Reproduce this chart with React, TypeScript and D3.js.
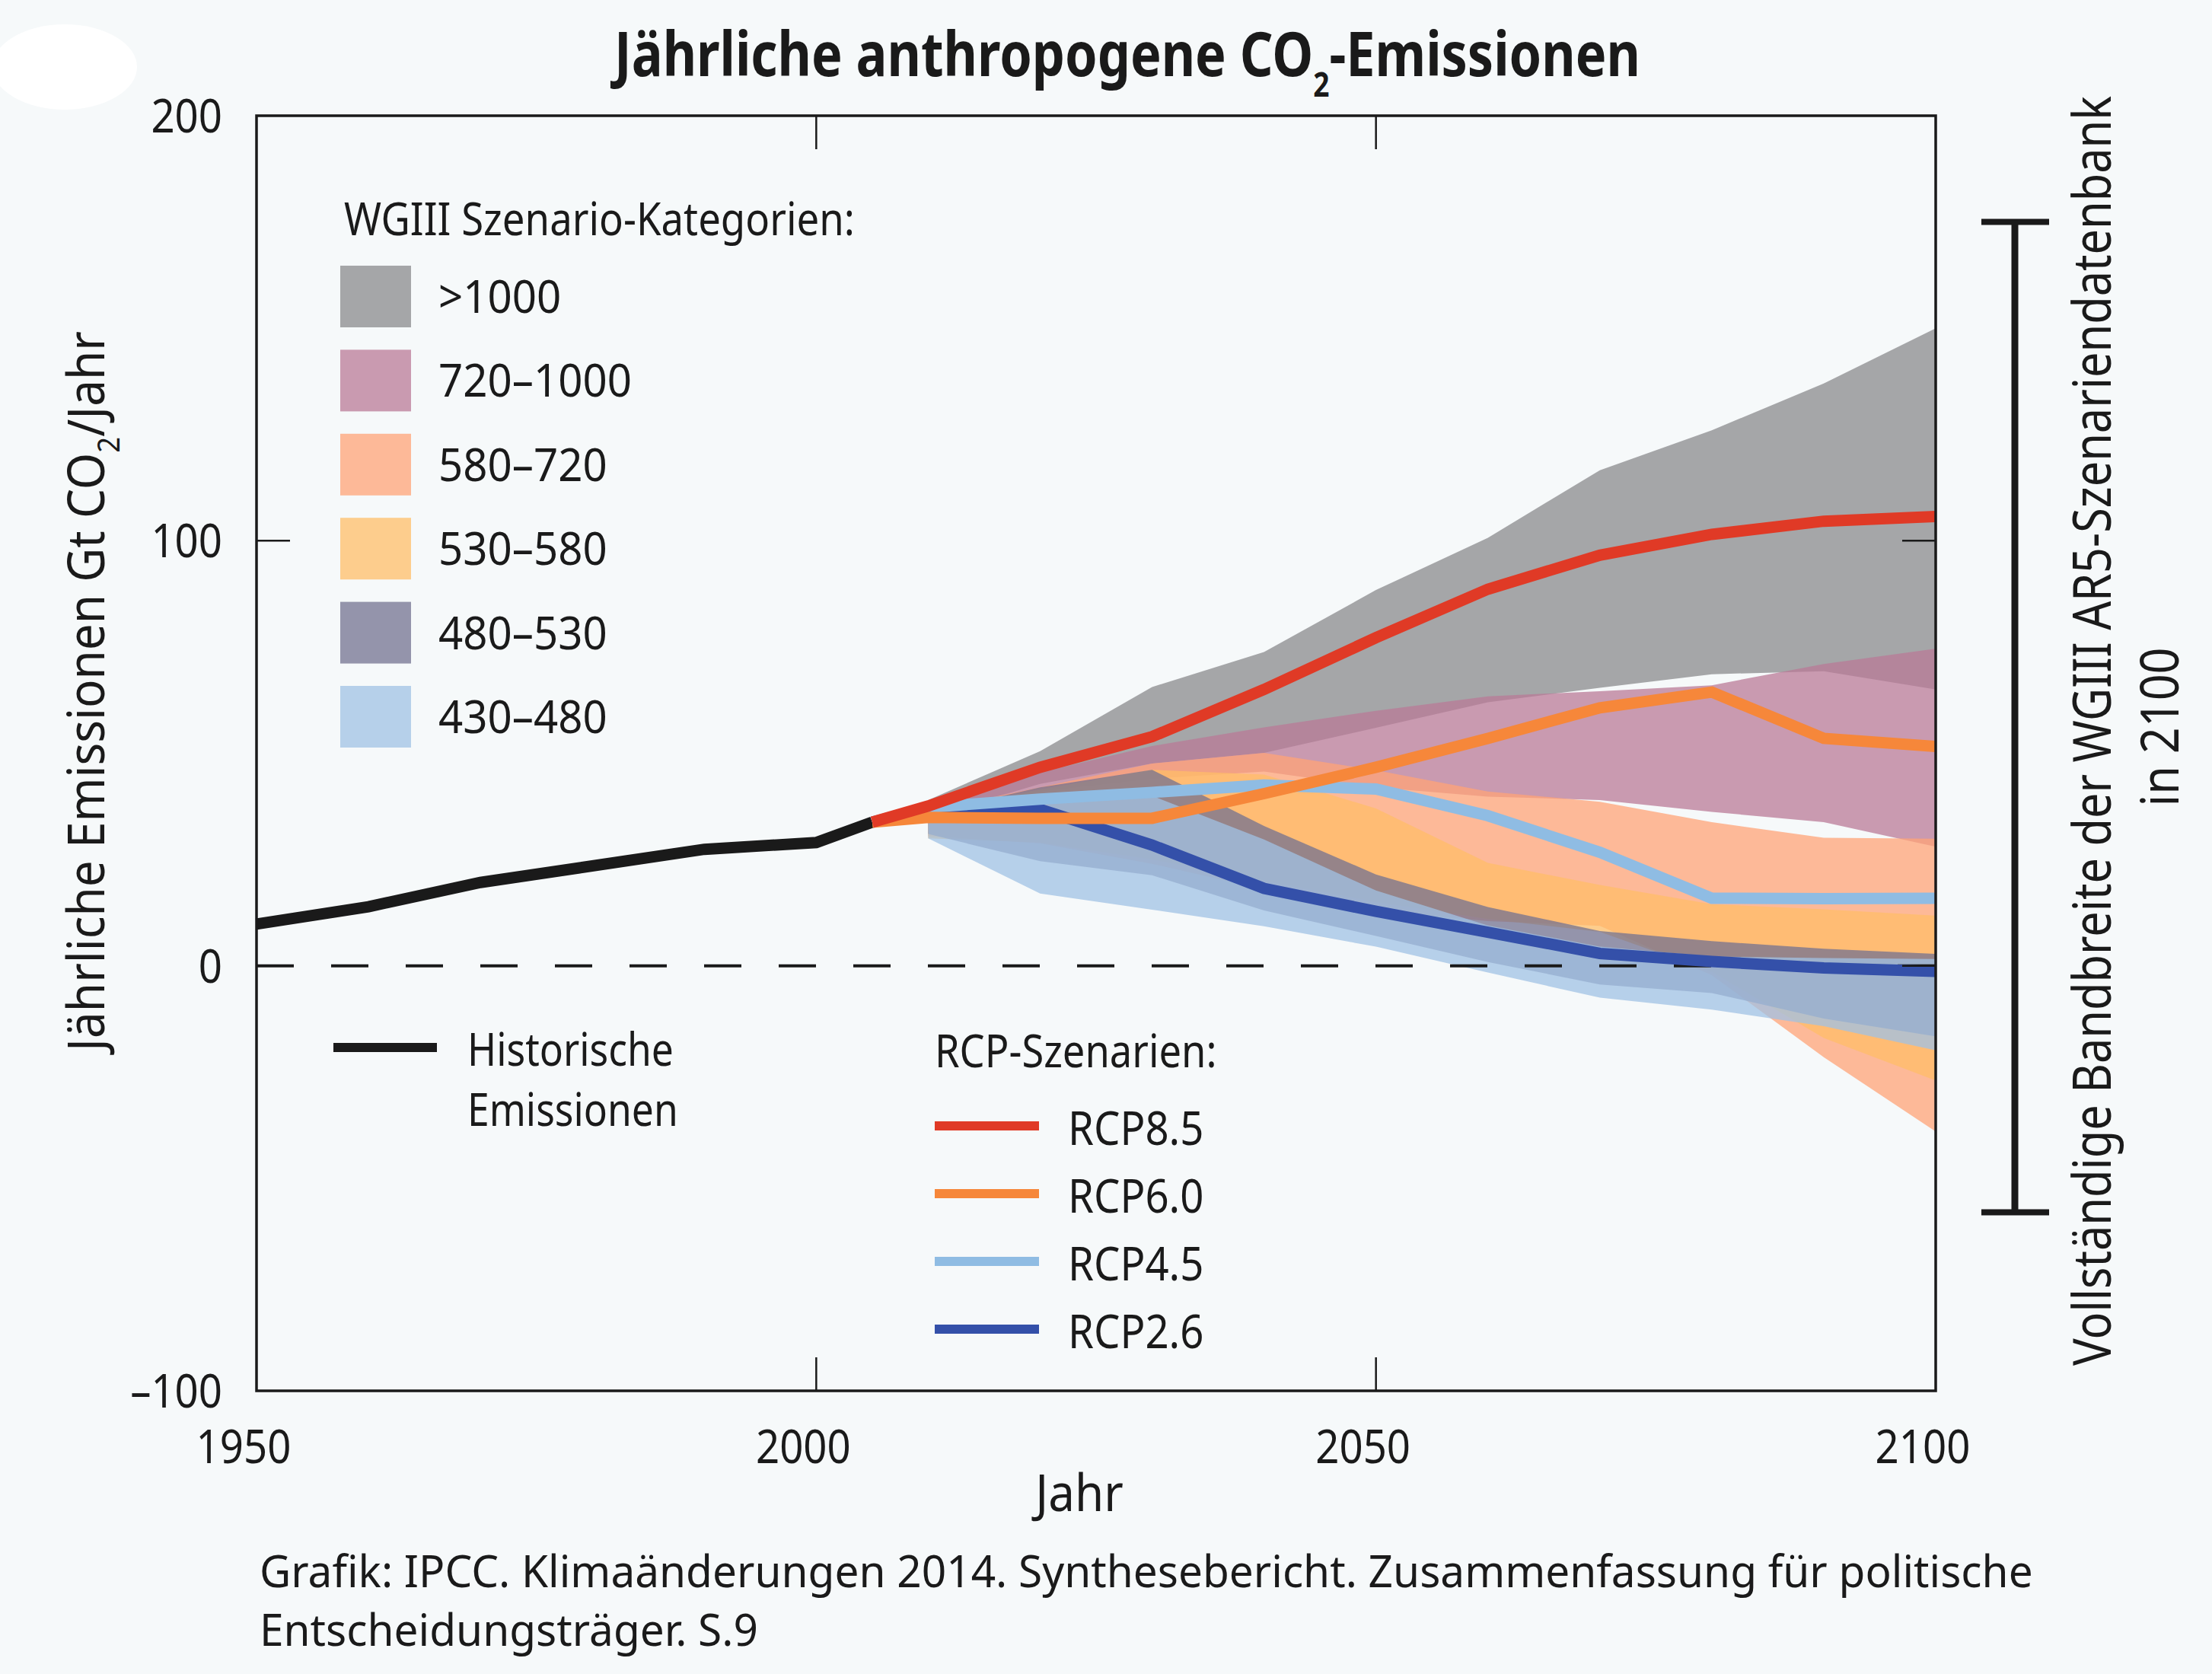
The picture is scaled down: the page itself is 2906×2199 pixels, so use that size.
import React, { useRef, useEffect } from "react";
import * as d3 from "d3";

// ---- data (Gt CO2 / Jahr) ----
const histYears = [1950, 1960, 1970, 1990, 2000, 2005];
const histValues = [9.8, 13.9, 19.6, 27.4, 29.0, 33.8];

const rcpYears = [2005, 2010, 2020, 2030, 2040, 2050, 2060, 2070, 2080, 2090, 2100];
const rcp85 = [33.8, 37.6, 46.7, 53.9, 65.0, 77.2, 88.6, 96.6, 101.5, 104.6, 105.7];
const rcp60 = [33.8, 34.9, 34.7, 34.7, 40.5, 46.7, 53.5, 60.7, 64.4, 53.5, 51.6];
const rcp45 = [33.8, 37.3, 39.2, 40.8, 42.5, 41.6, 35.3, 26.7, 15.9, 15.8, 15.9];
const rcp26 = [33.8, 37.0, 36.8, 28.4, 18.2, 12.8, 7.9, 2.9, 1.0, -0.5, -1.3];

const bandYears = [2010, 2020, 2030, 2040, 2050, 2060, 2070, 2080, 2090, 2100];
const cat1000Low = [35, 42.8, 47.6, 50.1, 56, 62, 65.4, 68.6, 69.3, 65];
const cat1000High = [39, 50.5, 65.6, 73.8, 88.4, 100.7, 116.6, 126, 137, 150];
const cat720Low = [34, 41, 44, 45.7, 42, 39.8, 39, 36.2, 33.8, 28];
const cat720High = [37.5, 45.5, 51.7, 56.1, 60, 63.4, 64.6, 66, 71, 74.6];
const cat580Low = [30.5, 28.8, 24, 18, 13, 10.5, 9.4, -2.2, -21.5, -39];
const cat580High = [36.5, 42, 47.6, 50.1, 46, 41, 38.6, 33.8, 30.1, 29.9];
const cat530Low = [30, 29, 25, 20, 15, 11, 8, -1.4, -17, -27];
const cat530High = [36, 41.5, 46.1, 45, 37, 24.2, 19, 14.5, 13.3, 11.8];
const cat480Low = [31, 24.6, 21.3, 13, 7, 0.9, -4.4, -6.4, -12.4, -16.6];
const cat480High = [36, 42, 46.1, 32.9, 21.5, 13.8, 8.2, 5.8, 4.0, 2.8];
const cat430Low = [30, 17, 13.2, 9.3, 4.5, -1.6, -7.5, -10.3, -14.2, -19.9];
const cat430High = [36.5, 38, 40, 29.7, 17.7, 9.5, 4.5, 2.2, 1.8, 1.6];

const categories = [">1000", "720–1000", "580–720", "530–580", "480–530", "430–480"];
const rcpNames = ["RCP8.5", "RCP6.0", "RCP4.5", "RCP2.6"];

// full range of the WGIII AR5 scenario database in 2100
const dbRange2100 = [-58, 175];

const xTicks = [1950, 2000, 2050, 2100];
const yTicks = [-100, 0, 100, 200];

const W = 2906;
const H = 2199;
const FONT = "'Noto Sans', 'Open Sans', sans-serif";
const ink = "#1a1a1a";

type LabelOpts = { k?: number; width?: number; rot?: boolean; bold?: boolean; anchor?: string };

const drawChart = (elt: SVGSVGElement) => {
  const svg = d3.select(elt);
  svg.selectAll("*").remove();

  const x = d3.scaleLinear().domain([1950, 2100]).range([337, 2543]);
  const y = d3.scaleLinear().domain([-100, 200]).range([1827, 152]);

  svg.append("rect").attr("width", W).attr("height", H).attr("fill", "#f6f9fa");
  svg.append("ellipse").attr("cx", 85).attr("cy", 88).attr("rx", 95).attr("ry", 56).attr("fill", "#ffffff");

  // the source figure uses a condensed face, so text is squeezed horizontally
  const label = (tx: number, ty: number, size: number, content: string | ((t: any) => void), o: LabelOpts = {}) => {
    const grp = svg.append("g");
    const t = grp.append("text")
      .attr("text-anchor", o.anchor || "start")
      .style("font-family", FONT)
      .style("font-size", size + "px")
      .style("font-weight", o.bold ? "bold" : "normal")
      .style("fill", ink);
    if (typeof content === "string") t.text(content);
    else content(t);
    let k = o.k ?? 1;
    if (o.width) k = o.width / (t.node() as SVGTextElement).getComputedTextLength();
    grp.attr("transform", `translate(${tx},${ty})${o.rot ? " rotate(-90)" : ""} scale(${k},1)`);
    return k;
  };

  // bands: colours chosen so that at 75% opacity they give the legend swatch tones
  const bands = [
    { low: cat1000Low, high: cat1000High, fill: "#8a8a8c" },
    { low: cat720Low, high: cat720High, fill: "#ba7a97" },
    { low: cat580Low, high: cat580High, fill: "#ffa377" },
    { low: cat530Low, high: cat530High, fill: "#ffbd68" },
    { low: cat480Low, high: cat480High, fill: "#737290" },
    { low: cat430Low, high: cat430High, fill: "#a0c1e4" },
  ];
  const area = d3.area<number>()
    .x((d, i) => x(bandYears[i]))
    .y0((d) => y(d));

  const plot = svg.append("g");
  bands.forEach((b) => {
    plot.append("path")
      .attr("d", area.y1((d, i) => y(b.high[i]))(b.low))
      .attr("fill", b.fill)
      .attr("fill-opacity", 0.75);
  });

  // zero line
  plot.append("line")
    .attr("x1", x(1950)).attr("x2", x(2100))
    .attr("y1", y(0)).attr("y2", y(0))
    .attr("stroke", ink).attr("stroke-width", 4)
    .attr("stroke-dasharray", "49 49");

  const line = (xs: number[]) => d3.line<number>().x((d, i) => x(xs[i])).y((d) => y(d));

  plot.append("path").attr("d", line(histYears)(histValues))
    .attr("fill", "none").attr("stroke", ink).attr("stroke-width", 15);

  const rcpColors = ["#e03a26", "#f6873a", "#8fbce3", "#3450a9"];
  const rcpSeries = [rcp85, rcp60, rcp45, rcp26];
  // draw RCP2.6 first, RCP8.5 on top
  [3, 2, 1, 0].forEach((i) => {
    plot.append("path").attr("d", line(rcpYears)(rcpSeries[i]))
      .attr("fill", "none").attr("stroke", rcpColors[i]).attr("stroke-width", 15);
  });

  // frame + inward ticks
  svg.append("rect")
    .attr("x", x(1950)).attr("y", y(200))
    .attr("width", x(2100) - x(1950)).attr("height", y(-100) - y(200))
    .attr("fill", "none").attr("stroke", ink).attr("stroke-width", 3.5);
  const tickLen = 44;
  xTicks.slice(1, -1).forEach((t) => {
    svg.append("line").attr("x1", x(t)).attr("x2", x(t)).attr("y1", y(-100)).attr("y2", y(-100) - tickLen)
      .attr("stroke", ink).attr("stroke-width", 2.5);
    svg.append("line").attr("x1", x(t)).attr("x2", x(t)).attr("y1", y(200)).attr("y2", y(200) + tickLen)
      .attr("stroke", ink).attr("stroke-width", 2.5);
  });
  yTicks.slice(1, -1).forEach((t) => {
    svg.append("line").attr("x1", x(1950)).attr("x2", x(1950) + tickLen).attr("y1", y(t)).attr("y2", y(t))
      .attr("stroke", ink).attr("stroke-width", 2.5);
    svg.append("line").attr("x1", x(2100)).attr("x2", x(2100) - tickLen).attr("y1", y(t)).attr("y2", y(t))
      .attr("stroke", ink).attr("stroke-width", 2.5);
  });

  // tick labels
  xTicks.forEach((t) => label(x(t) - 17, 1922, 62, String(t), { anchor: "middle", k: 0.88 }));
  yTicks.forEach((t) => label(292, y(t) + 22, 62, t < 0 ? "–" + Math.abs(t) : String(t), { anchor: "end", k: 0.88 }));

  // title
  label(1481, 100, 81, (t) => {
    t.append("tspan").text("Jährliche anthropogene CO");
    t.append("tspan").attr("dy", 27).style("font-size", "44px").text("2");
    t.append("tspan").attr("dy", -27).text("-Emissionen");
  }, { anchor: "middle", bold: true, width: 1348 });

  // axis titles
  label(1418, 1985, 68, "Jahr", { anchor: "middle", k: 0.91 });
  label(137, 908, 68, (t) => {
    t.append("tspan").text("Jährliche Emissionen Gt CO");
    t.append("tspan").attr("dy", 20).style("font-size", "40px").text("2");
    t.append("tspan").attr("dy", -20).text("/Jahr");
  }, { anchor: "middle", rot: true, width: 946 });

  // category legend
  label(452, 309, 61, "WGIII Szenario-Kategorien:", { width: 671 });
  categories.forEach((c, i) => {
    const top = 349 + i * 110.4;
    svg.append("rect").attr("x", 447).attr("y", top).attr("width", 93).attr("height", 81)
      .attr("fill", bands[i].fill).attr("fill-opacity", 0.75);
    label(576, top + 62, 61, c, { k: 0.925 });
  });

  // historic legend
  svg.append("line").attr("x1", 438).attr("x2", 574).attr("y1", 1376).attr("y2", 1376)
    .attr("stroke", ink).attr("stroke-width", 12);
  label(614, 1400, 61, "Historische", { k: 0.845 });
  label(614, 1479, 61, "Emissionen", { k: 0.845 });

  // RCP legend
  label(1228, 1402, 61, "RCP-Szenarien:", { k: 0.86 });
  rcpNames.forEach((n, i) => {
    const ly = 1479 + i * 89;
    svg.append("line").attr("x1", 1228).attr("x2", 1365).attr("y1", ly).attr("y2", ly)
      .attr("stroke", rcpColors[i]).attr("stroke-width", 12);
    label(1403, ly + 25, 62, n, { k: 0.88 });
  });

  // bracket: full database range in 2100
  const bx = 2647;
  svg.append("line").attr("x1", bx).attr("x2", bx).attr("y1", y(dbRange2100[1])).attr("y2", y(dbRange2100[0]))
    .attr("stroke", ink).attr("stroke-width", 9);
  dbRange2100.forEach((v) => {
    svg.append("line").attr("x1", bx - 44).attr("x2", bx + 45).attr("y1", y(v)).attr("y2", y(v))
      .attr("stroke", ink).attr("stroke-width", 8);
  });
  label(2773, 960, 70, "Vollständige Bandbreite der WGIII AR5-Szenariendatenbank", { anchor: "middle", rot: true, width: 1668 });
  label(2862, 955, 70, "in 2100", { anchor: "middle", rot: true, width: 209 });

  // source
  const kc = label(341, 2085, 59, "Grafik: IPCC. Klimaänderungen 2014. Synthesebericht. Zusammenfassung für politische", { width: 2330 });
  label(341, 2162, 59, "Entscheidungsträger. S.9", { k: kc });
};

const App = () => {
  const ref = useRef<SVGSVGElement>(null);

  useEffect(() => {
    document.body.style.margin = "0";
    if (ref.current) drawChart(ref.current);
  }, []);

  return <svg ref={ref} width={W} height={H} style={{ display: "block" }} />;
};

export default App;
